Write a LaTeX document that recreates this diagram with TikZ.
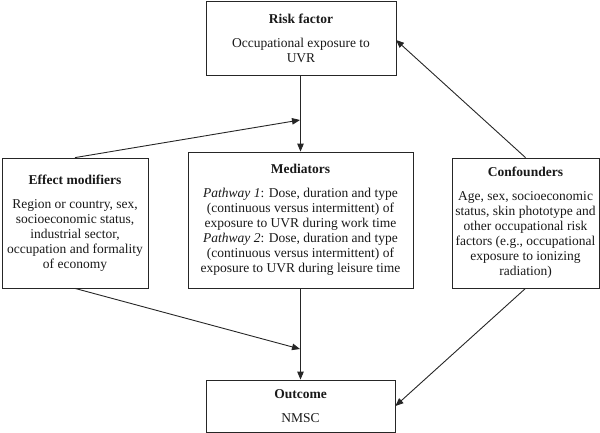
\documentclass[tikz,border=0pt]{standalone}
\usepackage{fontspec}
\setmainfont{Liberation Serif}
\usetikzlibrary{arrows.meta}
\begin{document}
\begin{tikzpicture}[x=1pt,y=-1pt,
  box/.style={draw=black!85, line width=0.8pt, inner sep=0pt, align=center,
    font=\fontsize{13.5}{15}\selectfont, text=black!90},
  conn/.style={draw=black!85, line width=0.9pt, -{Triangle[length=8pt,width=6.5pt]}}]
\useasboundingbox (0,0) rectangle (600,433);
\node[box, minimum width=190pt, minimum height=74pt] (risk) at (301,38)
  {\textbf{Risk factor}\\[9pt]Occupational exposure to\\UVR};
\node[box, minimum width=146pt, minimum height=130pt] (eff) at (75,223)
  {\textbf{Effect modifiers}\\[9pt]Region or country, sex,\\socioeconomic status,\\industrial sector,\\occupation and formality\\of economy};
\node[box, minimum width=225pt, minimum height=136pt] (med) at (300.5,220)
  {\textbf{Mediators}\\[9pt]\textit{Pathway 1}: Dose, duration and type\\(continuous versus intermittent) of\\exposure to UVR during work time\\\textit{Pathway 2}: Dose, duration and type\\(continuous versus intermittent) of\\exposure to UVR during leisure time};
\node[box, minimum width=147pt, minimum height=130pt] (conf) at (525.5,223)
  {\textbf{Confounders}\\[9pt]Age, sex, socioeconomic\\status, skin phototype and\\other occupational risk\\factors (e.g., occupational\\exposure to ionizing\\radiation)};
\node[box, minimum width=189pt, minimum height=52pt] (out) at (300.5,406)
  {\textbf{Outcome}\\[9pt]NMSC};
\coordinate (j1) at (300,120);
\coordinate (j2) at (300,349);
\coordinate (re) at (396,40);
\draw[conn] (risk.south -| med.north) -- (med.north);
\draw[conn] (eff.north) -- (j1);
\draw[conn] (conf.north) -- (re);
\draw[conn] (med.south) -- (out.north);
\draw[conn] (eff.south) -- (j2);
\draw[conn] (conf.south) -- (out.east);
\end{tikzpicture}
\end{document}
